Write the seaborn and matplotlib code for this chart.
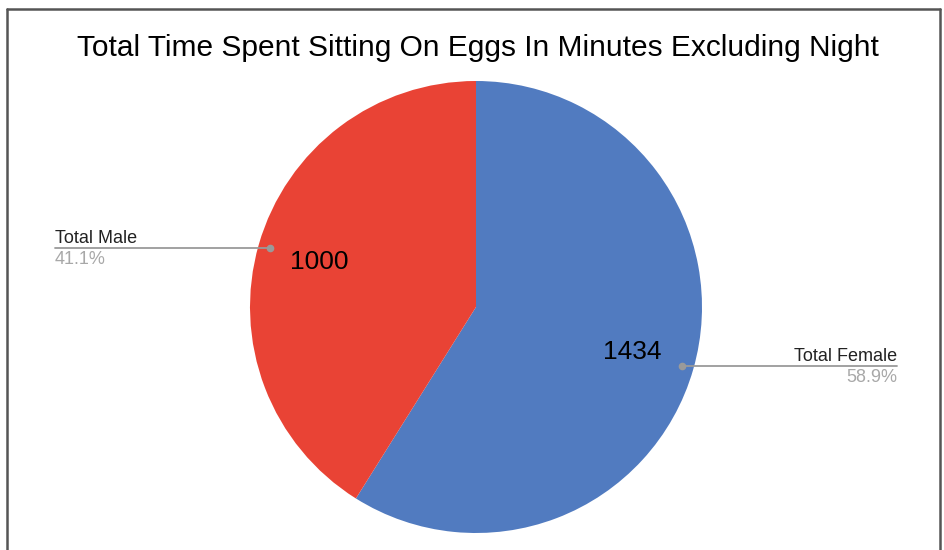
import numpy as np
import seaborn as sns
import matplotlib.pyplot as plt
from matplotlib.lines import Line2D

# data
categories = ["Total Female", "Total Male"]
values = [1434, 1000]
colors = ["#517BC0", "#E94335"]
title = "Total Time Spent Sitting On Eggs In Minutes Excluding Night"

sns.set_theme(style="white")
plt.rcParams['font.family'] = ['Liberation Sans', 'DejaVu Sans']

W, H = 945, 550
fig = plt.figure(figsize=(W / 100, H / 100), dpi=100)
ax = fig.add_axes([0, 0, 1, 1])

total = sum(values)
cx, cy, R = 476, H - 307, 226
wedges, _, autotexts = ax.pie(
    values, colors=sns.color_palette(colors), startangle=90, counterclock=False,
    center=(cx, cy), radius=R,
    autopct=lambda p: f"{round(p * total / 100)}", pctdistance=0.72,
    wedgeprops=dict(linewidth=0),
    textprops=dict(fontsize=19, color="black"),
)
ax.set_xlim(0, W)
ax.set_ylim(0, H)
ax.set_aspect("auto")
ax.axis("off")

ax.text(478, H - 56, title, ha="center", va="baseline", fontsize=21.5, color="black")

# leader lines with name + percentage
line_ends = {"Total Female": 897, "Total Male": 55}
for w, name, v in zip(wedges, categories, values):
    mid = np.deg2rad((w.theta1 + w.theta2) / 2)
    px = cx + 0.947 * R * np.cos(mid)
    py = cy + 0.947 * R * np.sin(mid)
    xe = line_ends[name]
    ax.add_line(Line2D([px, xe], [py, py], color="#9a9a9a", lw=1.3))
    ax.plot(px, py, "o", ms=4.5, color="#9a9a9a")
    ha = "left" if xe < px else "right"
    ax.text(xe, py + 5, name, ha=ha, va="baseline", fontsize=13, color="#222222")
    ax.text(xe, py - 3, f"{v / total * 100:.1f}%", ha=ha, va="top", fontsize=13,
            color="#a8a8a8")

# outer frame
frame = dict(color="#555555", lw=1.8, transform=fig.transFigure)
fig.add_artist(Line2D([7 / W, 7 / W], [0, 1 - 9 / H], **frame))
fig.add_artist(Line2D([940 / W, 940 / W], [0, 1 - 9 / H], **frame))
fig.add_artist(Line2D([7 / W, 940 / W], [1 - 9 / H, 1 - 9 / H], **frame))

fig.savefig("out.png", dpi=100, facecolor="white")
